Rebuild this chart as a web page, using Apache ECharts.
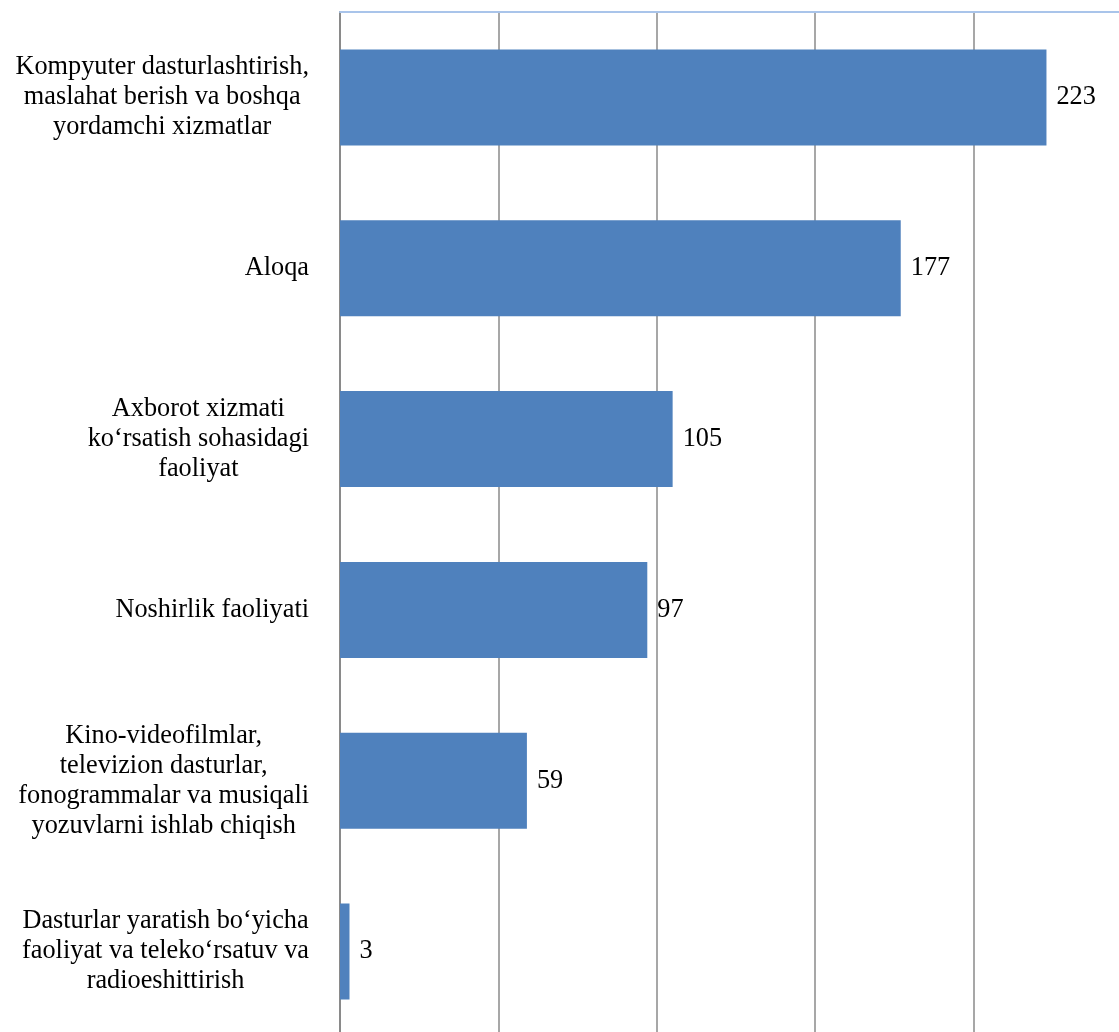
<!DOCTYPE html>
<html>
<head>
<meta charset="utf-8">
<script src="https://cdn.jsdelivr.net/npm/echarts@6/dist/echarts.min.js"></script>
<style>
html,body{margin:0;padding:0;background:#fff;overflow:hidden;width:1119px;height:1032px;}
#chart{width:1132px;height:1037px;}
</style>
</head>
<body>
<div id="chart"></div>
<script>
const categories = [
  "Kompyuter dasturlashtirish,\nmaslahat berish va boshqa\nyordamchi xizmatlar",
  "Aloqa",
  "Axborot xizmati\nko\u2018rsatish sohasidagi\nfaoliyat",
  "Noshirlik faoliyati",
  "Kino-videofilmlar,\ntelevizion dasturlar,\nfonogrammalar va musiqali\nyozuvlarni ishlab chiqish",
  "Dasturlar yaratish bo\u2018yicha\nfaoliyat va teleko\u2018rsatuv va\nradioeshittirish"
];
const values = [223, 177, 105, 97, 59, 3];

const FONT = '"Liberation Serif", "Times New Roman", serif';
const chart = echarts.init(document.getElementById('chart'));
chart.setOption({
  animation: false,
  backgroundColor: '#ffffff',
  grid: { left: 340, right: 0, top: 12, bottom: 0 },
  xAxis: {
    type: 'value',
    position: 'top',
    min: 0, max: 250, interval: 50,
    axisLine: { show: true, lineStyle: { color: '#a9c4ea', width: 2 } },
    axisTick: { show: false },
    axisLabel: { show: false },
    splitLine: { show: true, lineStyle: { color: '#8a8a8a', width: 1.5 } }
  },
  yAxis: {
    type: 'category',
    inverse: true,
    data: categories,
    axisLine: { show: true, lineStyle: { color: '#8a8a8a', width: 2 } },
    axisTick: { show: false },
    axisLabel: {
      margin: 31,
      align: 'right',
      formatter: function (v) {
        return v.split('\n').map(s => '{a|' + s + '}').join('\n');
      },
      rich: {
        a: { fontFamily: FONT, fontSize: 26.3, lineHeight: 30, color: '#000', align: 'center' }
      }
    }
  },
  series: [{
    type: 'bar',
    data: values,
    barWidth: 96,
    itemStyle: { color: '#4f81bd' },
    label: {
      show: true,
      position: 'right',
      distance: 10,
      fontFamily: FONT,
      fontSize: 26.3,
      color: '#000'
    }
  }]
});
</script>
</body>
</html>
